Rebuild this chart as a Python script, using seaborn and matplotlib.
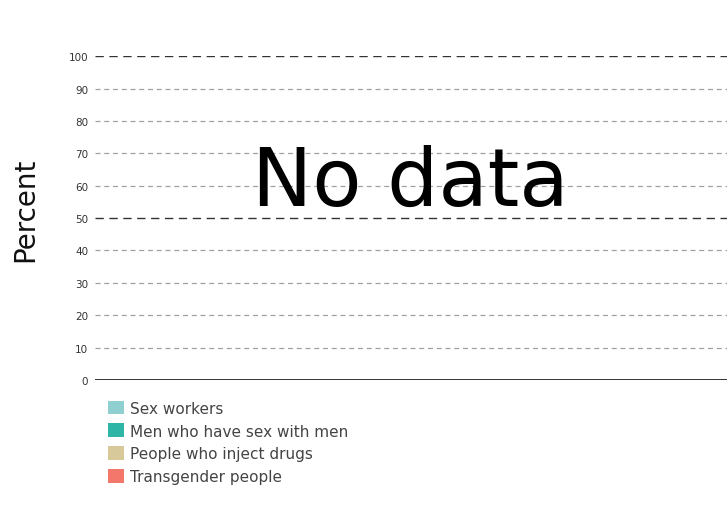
"""Empty key-populations chart: no data placeholder with legend."""

import matplotlib
matplotlib.use("Agg")
import matplotlib.pyplot as plt
from matplotlib.patches import Patch
import pandas as pd
import seaborn as sns

# data
groups = ["Sex workers", "Men who have sex with men",
          "People who inject drugs", "Transgender people"]
group_colors = ["#8fcfcf", "#2fb5a5", "#d8c99b", "#f4776b"]
years = []
values = []
y_ticks = [0, 10, 20, 30, 40, 50, 60, 70, 80, 90, 100]
y_label = "Percent"
empty_text = "No data"

sns.set_style("white")
plt.rcParams["font.family"] = ["DejaVu Sans"]

fig = plt.figure(figsize=(7.27, 5.06), dpi=100)
ax = fig.add_axes([0.131, 0.247, 0.869, 0.640])

df = pd.DataFrame({"year": pd.Series(years, dtype=str),
                   "group": pd.Series([], dtype=str),
                   "value": pd.Series(values, dtype=float)})
if len(df):
    sns.barplot(data=df, x="year", y="value", hue="group",
                palette=dict(zip(groups, group_colors)), ax=ax, legend=False)

ax.set_xlim(0, 1)
ax.set_ylim(y_ticks[0], y_ticks[-1])
ax.set_xticks([])
ax.set_yticks(y_ticks)
ax.set_yticklabels([str(t) for t in y_ticks])
ax.tick_params(axis="y", length=0, pad=5, labelsize=7.5, colors="#333333")
for s in ax.spines.values():
    s.set_visible(False)

for t in y_ticks:
    if t == 0:
        ax.axhline(t, color="#333333", lw=1.4, zorder=1)
    elif t % 50 == 0:
        ax.axhline(t, color="#333333", lw=1.0, dashes=(6, 4), zorder=1)
    else:
        ax.axhline(t, color="#a0a0a0", lw=0.9, dashes=(4, 3), zorder=1)

ax.set_ylabel(y_label, fontsize=20, color="#111111")
ax.yaxis.set_label_coords(-0.111, 0.528)
ax.yaxis.label.set_va("center")

ax.text(0.498, 0.61, empty_text, transform=ax.transAxes, fontsize=58,
        ha="center", va="center", color="black")

handles = [Patch(facecolor=c, edgecolor="none", label=g)
           for g, c in zip(groups, group_colors)]
fig.legend(handles=handles, loc="upper left", bbox_to_anchor=(0.149, 0.206),
           frameon=False, fontsize=11, handlelength=1.0, handleheight=1.0,
           handletextpad=0.45, labelspacing=0.5, borderaxespad=0,
           borderpad=0, labelcolor="#444444")

fig.savefig("out.png", dpi=100)
